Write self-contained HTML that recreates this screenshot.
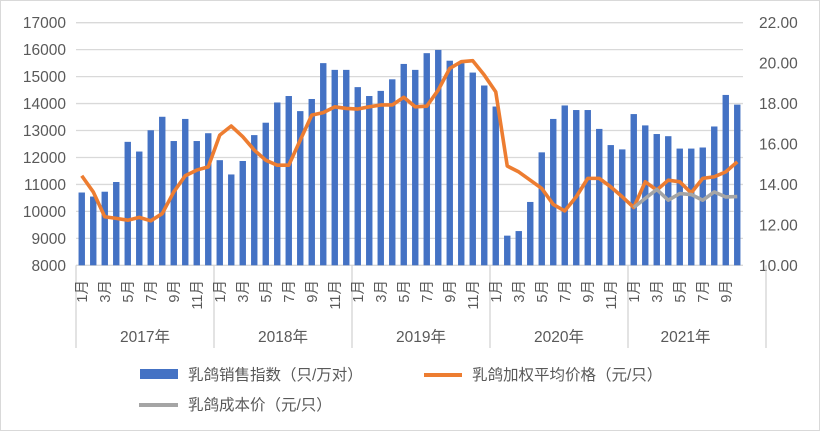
<!DOCTYPE html>
<html><head><meta charset="utf-8"><style>
body{margin:0;background:#fff}
svg{display:block;font-family:"Liberation Sans","Noto Sans CJK SC",sans-serif}
</style></head><body>
<svg id="c" width="820" height="431" xmlns="http://www.w3.org/2000/svg">
<rect x="0.5" y="0.5" width="819" height="430" fill="#fff" stroke="#d9d9d9"/>
<g id="g"></g>
</svg>
<script>
const bars=[10700,10550,10730,11090,12580,12220,13010,13510,12610,13430,12610,12900,
11900,11370,11870,12830,13290,14040,14280,13720,14170,15500,15250,15250,
14610,14280,14470,14900,15470,15250,15870,15990,15590,15500,15150,14670,
13890,9100,9270,10350,12190,13430,13930,13760,13760,13060,12460,12300,
13610,13190,12870,12790,12330,12330,12370,13150,14320,13960];
const pr=[14.43,13.63,12.40,12.32,12.23,12.37,12.20,12.56,13.63,14.43,14.71,14.87,
16.44,16.89,16.36,15.70,15.20,14.95,14.95,16.19,17.43,17.55,17.84,17.76,
17.73,17.84,17.93,17.93,18.31,17.84,17.87,18.67,19.74,20.07,20.12,19.41,
18.58,14.91,14.62,14.21,13.80,13.01,12.69,13.39,14.30,14.30,13.88,13.39,
12.86,14.13,13.72,14.21,14.13,13.58,14.30,14.38,14.62,15.12];
const cost=[12.86,13.31,13.75,13.22,13.55,13.5,13.22,13.63,13.38,13.4];
const L=76,R=743,T=22.7,B=265.3,pw=(R-L)/58;
const yl=v=>B-(v-8000)/9000*(B-T), yr=v=>B-(v-10)/12*(B-T), xc=i=>L+pw*(i+0.5);
let s='';
for(let k=0;k<=9;k++){const y=T+k*(B-T)/9;s+=`<line x1="${L}" x2="${R}" y1="${y}" y2="${y}" stroke="#d9d9d9" stroke-width="1.3"/>`;
s+=`<text x="66" y="${y+5.5}" font-size="15.5" fill="#595959" text-anchor="end">${17000-k*1000}</text>`;}
for(let k=0;k<=6;k++){const y=T+k*(B-T)/6;s+=`<text x="759" y="${y+5.5}" font-size="15.5" fill="#595959">${(22-2*k).toFixed(2)}</text>`;}
bars.forEach((v,i)=>{const y=yl(v);s+=`<rect x="${xc(i)-3.2}" y="${y}" width="6.4" height="${B-y}" fill="#4472c4"/>`;});
s+=`<polyline fill="none" stroke="#ed7d31" stroke-width="3.6" stroke-linejoin="round" points="${pr.map((v,i)=>xc(i)+','+yr(v)).join(' ')}"/>`;
s+=`<polyline fill="none" stroke="#a5a5a5" stroke-width="3.6" stroke-linejoin="round" points="${cost.map((v,i)=>xc(i+48)+','+yr(v)).join(' ')}"/>`;
for(let yIdx=0;yIdx<=5;yIdx++){const x=L+yIdx*12*pw;s+=`<line x1="${x}" x2="${x}" y1="${B}" y2="348" stroke="#d0d0d0" stroke-width="1.2"/>`;}
for(let i=0;i<58;i+=2){const m=(i%12)+1;const x=xc(i);s+=`<text transform="translate(${x+5},280) rotate(-90)" font-size="14.5" fill="#595959" text-anchor="end">${m}月</text>`;}
['2017年','2018年','2019年','2020年','2021年'].forEach((t,k)=>{const x=L+(k*12+(k==4?5:6))*pw;s+=`<text x="${x}" y="342" font-size="15.5" fill="#595959" text-anchor="middle">${t}</text>`;});
s+=`<rect x="140" y="369" width="38" height="10" fill="#4472c4"/><text x="188" y="380" font-size="15.5" fill="#595959">乳鸽销售指数（只/万对）</text>`;
s+=`<line x1="424" x2="462" y1="375" y2="375" stroke="#ed7d31" stroke-width="4"/><text x="472" y="380" font-size="15.5" fill="#595959">乳鸽加权平均价格（元/只）</text>`;
s+=`<line x1="139" x2="178" y1="405" y2="405" stroke="#a5a5a5" stroke-width="4"/><text x="188" y="410" font-size="15.5" fill="#595959">乳鸽成本价（元/只）</text>`;
document.getElementById('g').innerHTML=s;
</script>
</body></html>
